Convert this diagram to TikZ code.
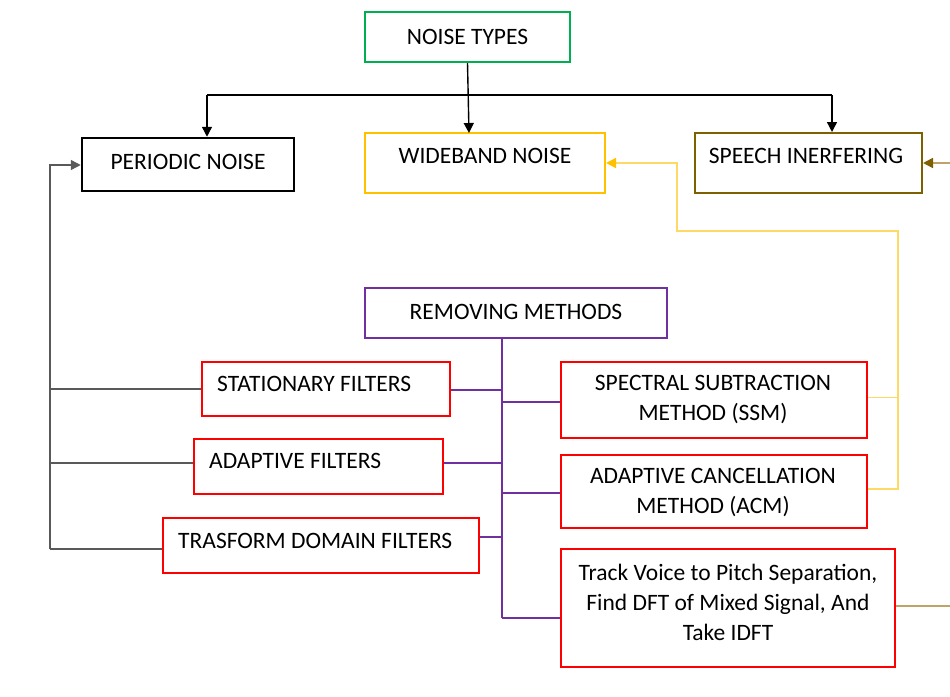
\documentclass[tikz,border=0pt]{standalone}
\usepackage{fontspec}
\setmainfont{Carlito}
\usetikzlibrary{arrows.meta}
\definecolor{cgreen}{HTML}{00B050}
\definecolor{cgold}{HTML}{FFC000}
\definecolor{cdgold}{HTML}{7F6000}
\definecolor{cpurple}{HTML}{7030A0}
\definecolor{cred}{HTML}{FF0000}
\definecolor{cyell}{HTML}{FFD966}
\definecolor{ctan}{HTML}{BFA36A}
\definecolor{cgray}{HTML}{595959}
\tikzset{
  box/.style={draw, rectangle, line width=2pt, inner sep=0pt},
  rbox/.style={box, draw=cred, line width=1.5pt},
  txt/.style={inner sep=0pt, font=\fontsize{23.5}{30}\selectfont, align=center},
  tip/.style={-{Triangle[length=10pt,width=10pt]}},
  conn/.style={line width=1.4pt},
  pconn/.style={line width=2pt, cpurple},
}
\begin{document}
\begin{tikzpicture}[x=1pt,y=-1pt]
\useasboundingbox (0,0) rectangle (950,696);
% boxes
\node[box, draw=cgreen, minimum width=205pt, minimum height=50pt] (nt) at (467.5,37) {};
\node[box, draw=black, line width=2.5pt, minimum width=212pt, minimum height=53pt] (pn) at (188,164.5) {};
\node[box, draw=cgold, minimum width=240pt, minimum height=60pt] (wn) at (485,163) {};
\node[box, draw=cdgold, minimum width=227pt, minimum height=60pt] (si) at (808.5,163) {};
\node[box, draw=cpurple, minimum width=302pt, minimum height=50pt] (rm) at (516,313) {};
\node[rbox, minimum width=248pt, minimum height=54pt] (sf) at (326,389) {};
\node[rbox, minimum width=249pt, minimum height=55pt] (af) at (318.5,466.5) {};
\node[rbox, minimum width=316pt, minimum height=55pt] (tf) at (321,545.5) {};
\node[rbox, minimum width=306pt, minimum height=76pt] (ss) at (714,400) {};
\node[rbox, minimum width=306pt, minimum height=73pt] (ac) at (714,491.5) {};
\node[rbox, minimum width=334pt, minimum height=118pt] (tv) at (728,608) {};
% texts
\node[txt] (tnt) at (467.5,37) {NOISE TYPES};
\node[txt] (tpn) at (188,162) {PERIODIC NOISE};
\node[txt] (twn) at (485,156) {WIDEBAND NOISE};
\node[txt] (tsi) at (806,156) {SPEECH INERFERING};
\node[txt] (trm) at (516,312) {REMOVING METHODS};
\node[txt, anchor=west] (tsf) at (217,384) {STATIONARY FILTERS};
\node[txt, anchor=west] (taf) at (209,461) {ADAPTIVE FILTERS};
\node[txt, anchor=west] (ttf) at (178,541) {TRASFORM DOMAIN FILTERS};
\node[txt] (tss) at (713,399) {SPECTRAL SUBTRACTION\\METHOD (SSM)};
\node[txt] (tac) at (713,492) {ADAPTIVE CANCELLATION\\METHOD (ACM)};
\node[txt] (ttv) at (728,602) {Track Voice to Pitch Separation,\\Find DFT of Mixed Signal, And\\Take IDFT};
% coordinates
\coordinate (lt) at (50,165);
\coordinate (lb) at (50,549);
\coordinate (y1) at (677,163);
\coordinate (y2) at (898,231);
\coordinate (r1) at (975,163);
\coordinate (pv) at (502,618);
% top tree
\draw[conn, black] (207,95) -- (832,95);
\draw[conn, black, tip] (nt.south) -- (469,133);
\draw[conn, black, tip] (207,95) -- (pn.north -| 207,0);
\draw[conn, black, tip] (832,95) -- (si.north -| 832,0);
% left connectors
\draw[conn, cgray, tip] (lb) -- (lt) -- (pn.west |- lt);
\draw[conn, cgray] (50,389) -- (sf.west |- 0,389);
\draw[conn, cgray] (50,463) -- (af.west |- 0,463);
\draw[conn, cgray] (lb) -- (tf.west |- lb);
% purple tree
\draw[pconn] (rm.south -| pv) -- (pv);
\draw[pconn] (sf.east |- 0,390) -- (502,390);
\draw[pconn] (af.east |- 0,463) -- (502,463);
\draw[pconn] (tf.east |- 0,537) -- (502,537);
\draw[pconn] (502,402) -- (ss.west |- 0,402);
\draw[pconn] (502,493) -- (ac.west |- 0,493);
\draw[pconn] (pv) -- (tv.west |- pv);
% yellow feedback
\draw[conn, cyell, line width=1.6pt, -{Triangle[length=10pt,width=10pt,color=cgold]}] (ac.east |- 0,489) -- (898,489) -- (y2) -- (677,231) -- (y1) -- (wn.east |- y1);
\draw[conn, cyell, line width=0.8pt] (ss.east |- 0,397) -- (898,397);
% tan feedback
\draw[conn, ctan, line width=1.6pt] (tv.east |- 0,606) -- (975,606) -- (r1);
\draw[conn, ctan, line width=1.6pt, -{Triangle[length=10pt,width=10pt,color=cdgold]}] (r1) -- (si.east |- r1);
\end{tikzpicture}
\end{document}
